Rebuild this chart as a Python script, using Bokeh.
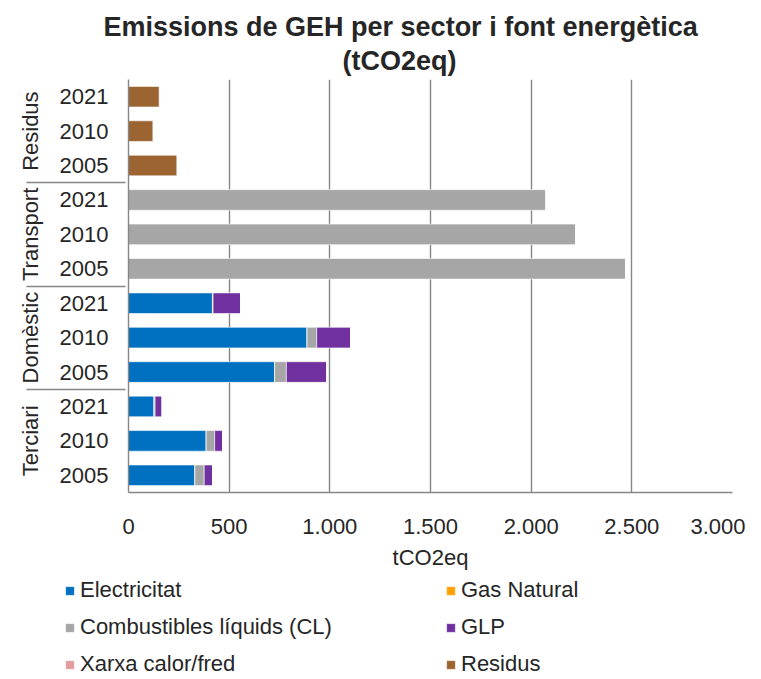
from bokeh.plotting import figure
from bokeh.models import FactorRange, ColumnDataSource, Legend, LegendItem, FixedTicker, Title, Range1d
from bokeh.embed import file_html
from bokeh.resources import INLINE

# ---- data ----
sectors = ["Terciari", "Domèstic", "Transport", "Residus"]
years = ["2005", "2010", "2021"]
series = ["Electricitat", "Gas Natural", "Combustibles líquids (CL)", "GLP", "Xarxa calor/fred", "Residus"]
colors = ["#0070C0", "#FFA000", "#A6A6A6", "#7030A0", "#E39C9C", "#9C6430"]

# values in order: Terciari 2005/2010/2021, Domèstic ..., Transport ..., Residus ...
electricitat = [330, 386, 127, 726, 887, 417, 0, 0, 0, 0, 0, 0]
gas_natural = [0, 0, 0, 0, 0, 0, 0, 0, 0, 0, 0, 0]
combustibles_liquids = [46, 42, 5, 58, 48, 3, 2469, 2222, 2074, 0, 0, 0]
glp = [42, 40, 35, 201, 168, 137, 0, 0, 0, 0, 0, 0]
xarxa = [0, 0, 0, 0, 0, 0, 0, 0, 0, 0, 0, 0]
residus = [0, 0, 0, 0, 0, 0, 0, 0, 0, 240, 121, 152]

tick_values = [0, 500, 1000, 1500, 2000, 2500, 3000]
tick_labels = ["0", "500", "1.000", "1.500", "2.000", "2.500", "3.000"]

title_line1 = "Emissions de GEH per sector i font energètica"
title_line2 = "(tCO2eq)"

FONT = "Liberation Sans"
TXT = "#262626"

factors = [(s, y) for s in sectors for y in years]
cols = ["c%d" % i for i in range(len(series))]
data = dict(y=factors)
for c, vals in zip(cols, [electricitat, gas_natural, combustibles_liquids, glp, xarxa, residus]):
    data[c] = vals
source = ColumnDataSource(data)

p = figure(width=745, height=572, output_backend="svg", toolbar_location=None,
           y_range=FactorRange(factors=factors, group_padding=0, factor_padding=0, range_padding=0),
           x_range=(0, 3000),
           min_border_left=128, min_border_right=13, min_border_top=79, min_border_bottom=79,
           title=title_line1)

p.hbar_stack(cols, y="y", height=0.6, color=colors, source=source,
             line_color="white", line_width=0.6)

def style_title(t, offset):
    t.align = "left"
    t.offset = offset
    t.text_font = FONT
    t.text_font_size = "27px"
    t.text_font_style = "bold"
    t.text_color = TXT

style_title(p.title, -25)
p.title.standoff = -4
sub = Title(text=title_line2)
style_title(sub, 214)
sub.standoff = 8
p.add_layout(sub, "above")

p.outline_line_color = None
p.ygrid.grid_line_color = None
p.xgrid.grid_line_color = "#868686"
p.xgrid.grid_line_width = 1.4
p.xaxis.ticker = FixedTicker(ticks=tick_values)
p.xaxis.major_label_overrides = {v: l for v, l in zip(tick_values, tick_labels)}
p.xaxis.axis_label = "tCO2eq"
p.xaxis.axis_label_text_font = FONT
p.xaxis.axis_label_text_font_size = "22px"
p.xaxis.axis_label_text_font_style = "normal"
p.xaxis.axis_label_text_color = TXT
p.xaxis.axis_label_standoff = 8
p.xaxis.major_label_text_font = FONT
p.xaxis.major_label_text_font_size = "22px"
p.xaxis.major_label_text_color = TXT
p.xaxis.major_label_standoff = 20
p.xaxis.major_tick_line_color = None
p.xaxis.minor_tick_line_color = None
p.xaxis.axis_line_color = "#868686"
p.xaxis.axis_line_width = 1.6

p.yaxis.major_label_text_font = FONT
p.yaxis.major_label_text_font_size = "22px"
p.yaxis.major_label_text_color = TXT
p.yaxis.major_label_standoff = 14
p.yaxis.group_text_font = FONT
p.yaxis.group_text_font_size = "22px"
p.yaxis.group_text_color = TXT
p.yaxis.group_text_font_style = "normal"
p.yaxis.major_tick_line_color = None
p.yaxis.minor_tick_line_color = None
p.yaxis.axis_line_color = "#868686"
p.yaxis.axis_line_width = 1.4
p.yaxis.separator_line_color = "#868686"
p.yaxis.separator_line_width = 1.4

# ---- legend strip (separate root below the chart) ----
q = figure(width=745, height=105, output_backend="svg", toolbar_location=None,
           x_axis_location=None, y_axis_location=None, min_border=0,
           y_range=FactorRange(factors=factors), x_range=Range1d(-2, -1))
q.outline_line_color = None
q.grid.visible = False
lrs = q.hbar_stack(cols, y="y", height=0.6, color=colors, source=source,
                   line_color="white", line_width=0.6)

# two columns filled column by column -> reorder so rows read like the reference
order = [0, 2, 4, 1, 3, 5]
items = [LegendItem(label=series[i], renderers=[lrs[i]]) for i in order]
legend = Legend(items=items, ncols=2, location=(64, 0),
                glyph_width=11, glyph_height=11, label_standoff=5,
                label_width=354, label_height=20, spacing=11, padding=0, margin=0,
                border_line_color=None, background_fill_alpha=0,
                label_text_font=FONT, label_text_font_size="22px", label_text_color=TXT)
q.add_layout(legend)

open("out.html", "w").write(file_html([p, q], INLINE))
